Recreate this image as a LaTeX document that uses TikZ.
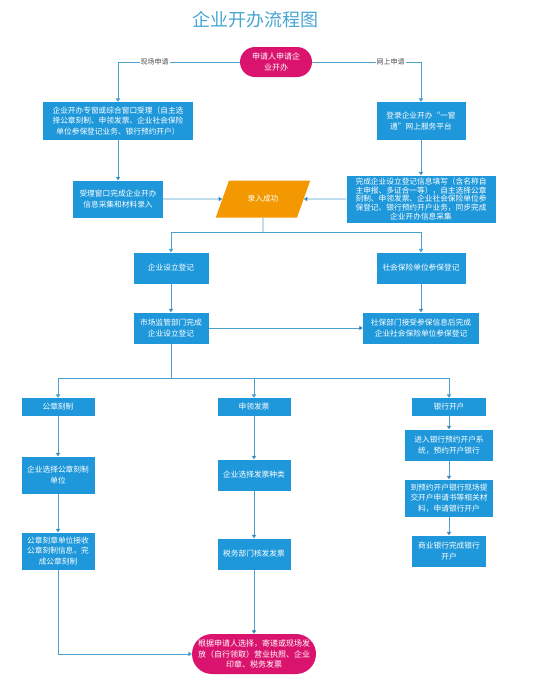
\documentclass[tikz,border=0pt]{standalone}
\usepackage{fontspec}
\setmainfont{Noto Sans CJK SC}
\usetikzlibrary{arrows.meta,shapes.misc,shapes.geometric}
\definecolor{boxblue}{RGB}{30,152,218}
\definecolor{linkblue}{RGB}{75,160,205}
\definecolor{rose}{RGB}{218,20,110}
\definecolor{amber}{RGB}{243,152,0}
\definecolor{titleblue}{RGB}{70,165,210}
\begin{document}
\begin{tikzpicture}[x=1pt, y=-1pt,
	box/.style={fill=boxblue, text=white, align=center, inner sep=1pt, font=\fontsize{7.7}{10.5}\selectfont},
	pill/.style={rounded rectangle, fill=rose, text=white, align=center, inner sep=1pt, font=\fontsize{8}{10.5}\selectfont},
	->/.style={draw=linkblue, line width=0.8pt, -{Triangle[width=4.5pt,length=3.5pt]}},
	way/.style={fill=white, text=black!70, inner sep=1pt, font=\fontsize{7}{8}\selectfont}]
		\useasboundingbox (0,0) rectangle (534,683);
		\node[text=titleblue, font=\fontsize{18}{20}\selectfont] (title) at (255,20) {企业开办流程图};
		
		\node[pill, minimum width=74, minimum height=30] (start) at (276,62) {申请人申请企\\业开办};
		\node[box, minimum width=150, minimum height=38] (L1) at (118,121) {企业开办专窗或综合窗口受理（自主选\\择公章刻制、申领发票、企业社会保险\\单位参保登记业务、银行预约开户）};
		\node[box, minimum width=89, minimum height=38] (R1) at (421,121) {登录企业开办“一窗\\通”网上服务平台};
		\node[box, minimum width=90, minimum height=37] (L2) at (118,199) {受理窗口完成企业开办\\信息采集和材料录入};
		\node[box, minimum width=149, minimum height=47, font=\fontsize{7.7}{8.8}\selectfont] (R2) at (421,199) {完成企业设立登记信息填写（含名称自\\主申报、多证合一等），自主选择公章\\刻制、申领发票、企业社会保险单位参\\保登记、银行预约开户业务，同步完成\\企业开办信息采集};
		\node[trapezium, trapezium left angle=62, trapezium right angle=118, trapezium stretches=true, fill=amber, text=white, minimum width=95, minimum height=37, font=\fontsize{7.7}{10}\selectfont] (OK) at (263,199) {录入成功};
		\coordinate (J1) at (263,232);
		
		\node[box, minimum width=75, minimum height=31] (S1) at (171,268) {企业设立登记};
		\node[box, minimum width=89, minimum height=31] (S2) at (421,268) {社会保险单位参保登记};
		\node[box, minimum width=75, minimum height=31] (M1) at (171,328) {市场监管部门完成\\企业设立登记};
		\node[box, minimum width=116, minimum height=31] (M2) at (421,328) {社保部门接受参保信息后完成\\企业社会保险单位参保登记};
		\coordinate (J2) at (171,378);
		
		\node[box, minimum width=73, minimum height=18] (G1) at (58,407) {公章刻制};
		\node[box, minimum width=73, minimum height=37] (G2) at (58,475) {企业选择公章刻制\\单位};
		\node[box, minimum width=73, minimum height=37] (G3) at (58,551) {公章刻章单位接收\\公章刻制信息，完\\成公章刻制};
		\node[box, minimum width=73, minimum height=18] (F1) at (254,407) {申领发票};
		\node[box, minimum width=73, minimum height=31] (F2) at (254,475) {企业选择发票种类};
		\node[box, minimum width=73, minimum height=31] (F3) at (254,554) {税务部门核发发票};
		\node[box, minimum width=74, minimum height=18] (B1) at (449,407) {银行开户};
		\node[box, minimum width=88, minimum height=31] (B2) at (449,445) {进入银行预约开户系\\统，预约开户银行};
		\node[box, minimum width=88, minimum height=37] (B3) at (449,498) {到预约开户银行现场提\\交开户申请书等相关材\\料，申请银行开户};
		\node[box, minimum width=74, minimum height=31] (B4) at (449,551) {商业银行完成银行\\开户};
		\node[pill, minimum width=126, minimum height=40] (end) at (254,654) {根据申请人选择，寄递或现场发\\放（自行领取）营业执照、企业\\印章、税务发票};
		
		\path [->] (start) -| node[way, pos=0.35] {现场申请} (L1);
		\path [->] (start) -| node[way, pos=0.36] {网上申请} (R1);
		\path [->] (L1) edge (L2);
		\path [->] (R1) edge (R2);
		\path [->] (L2) edge (OK);
		\path [->] (R2) edge (OK);
		\draw [linkblue, line width=0.8pt] (OK.south) -- (J1);
		\path [->] (J1) -| (S1);
		\path [->] (J1) -| (S2);
		\path [->] (S1) edge (M1);
		\path [->] (S2) edge (M2);
		\path [->] (M1) edge (M2);
		\draw [linkblue, line width=0.8pt] (M1) -- (J2);
		\path [->] (J2) -| (G1);
		\path [->] (J2) -| (F1);
		\path [->] (J2) -| (B1);
		\path [->] (G1) edge (G2);
		\path [->] (G2) edge (G3);
		\path [->] (F1) edge (F2);
		\path [->] (F2) edge (F3);
		\path [->] (B1) edge (B2);
		\path [->] (B2) edge (B3);
		\path [->] (B3) edge (B4);
		\path [->] (F3) edge (end);
		\path [->] (G3) |- (end);
\end{tikzpicture}
\end{document}
